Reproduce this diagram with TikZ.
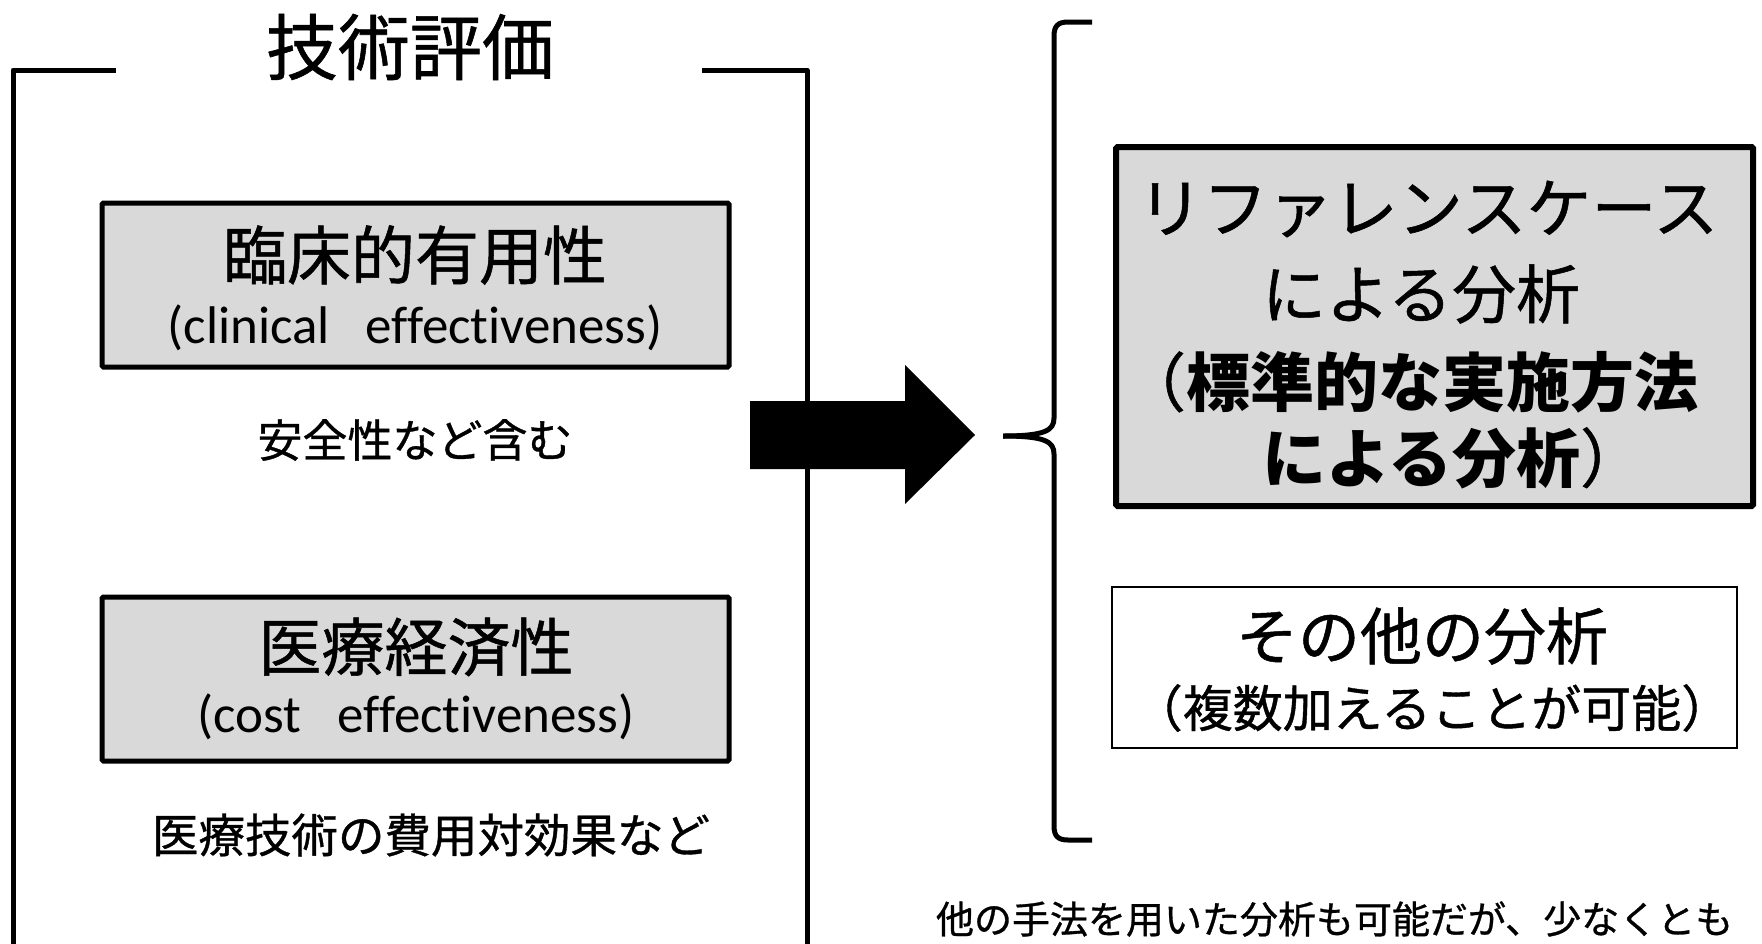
\documentclass[tikz,border=0pt]{standalone}
\usepackage{fontspec}
\setmainfont{Carlito}[Ligatures=NoCommon]
\newfontfamily\jp{Noto Sans CJK JP}[UprightFeatures={FakeBold=0.8}]
\definecolor{boxgray}{HTML}{D9D9D9}
\begin{document}
\begin{tikzpicture}[x=1pt,y=-1pt,
  graybox/.style={draw, line width=5pt, fill=boxgray, inner sep=0pt, rounded corners=1.5pt},
  whitebox/.style={draw, line width=2.5pt, fill=white, inner sep=0pt},
  txt/.style={inner sep=0pt, outer sep=0pt},
  bracketline/.style={line width=5pt, line join=round, line cap=butt}]
\useasboundingbox (0,0) rectangle (1762,943);
\clip (0,0) rectangle (1762,943);

% left bracket
\draw[bracketline] (116,70) -- (13,70) -- (13,960);
\draw[bracketline] (702,70) -- (807,70) -- (807,960);
\node[txt, font=\jp\fontsize{72}{72}\selectfont] (title) at (410,47) {技術評価};

% left boxes
\node[graybox, minimum width=627pt, minimum height=164pt] (b1) at (415.5,285) {};
\node[txt, font=\jp\fontsize{64}{64}\selectfont] (b1a) at (415,255) {臨床的有用性};
\node[txt, font=\fontsize{53}{53}\selectfont] (b1b) at (415,328) {(clinical\ \ \ effectiveness)};
\node[txt, font=\jp\fontsize{45}{45}\selectfont] (n1) at (415,440) {安全性など含む};

\node[graybox, minimum width=627pt, minimum height=164pt] (b2) at (415.5,679) {};
\node[txt, font=\jp\fontsize{63}{63}\selectfont] (b2a) at (416,647) {医療経済性};
\node[txt, font=\fontsize{53}{53}\selectfont] (b2b) at (416,717) {(cost\ \ \ effectiveness)};
\node[txt, font=\jp\fontsize{46.5}{46.5}\selectfont] (n2) at (431,835) {医療技術の費用対効果など};

% block arrow
\fill (750,401) -- (905,401) -- (905,365) -- (975,435) -- (905,504) -- (905,469) -- (750,469) -- cycle;

% brace
\draw[line width=5pt, line cap=butt] (1092,22) -- (1068,22) .. controls (1058,22) and (1054,26) .. (1054,36)
  -- (1054,418) .. controls (1054,430) and (1046,436) .. (1003,436);
\draw[line width=5pt, line cap=butt] (1092,840) -- (1068,840) .. controls (1058,840) and (1054,836) .. (1054,826)
  -- (1054,454) .. controls (1054,442) and (1046,436) .. (1003,436);

% right boxes
\node[graybox, line width=6pt, minimum width=637pt, minimum height=359pt] (rb) at (1434.5,326.5) {};
\node[txt, font=\jp\fontsize{65}{65}\selectfont] (r1) at (1428,209) {リファレンスケース};
\node[txt, font=\jp\fontsize{64}{64}\selectfont, anchor=west] (r2) at (1262,294) {による分析};
\node[txt, font=\jp\fontsize{64}{64}\selectfont] (r3) at (1410,382) {（\textbf{標準的な実施方法}};
\node[txt, font=\jp\fontsize{64}{64}\selectfont, anchor=west] (r4) at (1262,458) {\textbf{による分析}）};

\node[whitebox, minimum width=625pt, minimum height=161pt] (wb) at (1424.5,667.5) {};
\node[txt, font=\jp\fontsize{62}{62}\selectfont] (w1) at (1422,636) {その他の分析};
\node[txt, font=\jp\fontsize{50}{50}\selectfont] (w2) at (1432,708) {（複数加えることが可能）};

% bottom note (cut off at the right edge in the reference)
\node[txt, font=\jp\fontsize{38}{38}\selectfont, anchor=west] (foot) at (936,919) {他の手法を用いた分析も可能だが、少なくとも};
\end{tikzpicture}
\end{document}
